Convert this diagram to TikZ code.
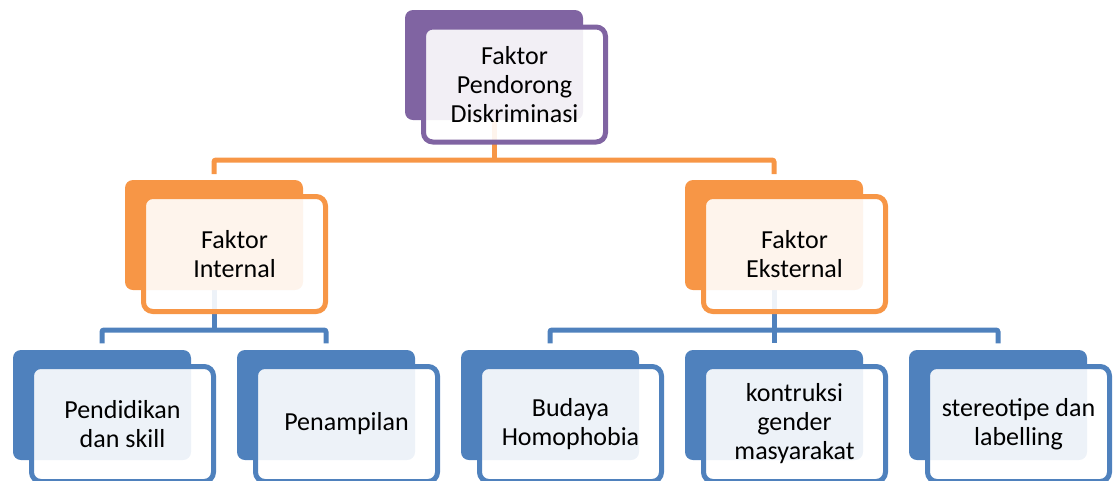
\documentclass[tikz,border=0pt]{standalone}
\usepackage{fontspec}
\setmainfont{Carlito}
\usetikzlibrary{calc}
\pgfdeclarelayer{background}
\pgfsetlayers{background,main}
\definecolor{cpurple}{HTML}{8064A2}
\definecolor{corange}{HTML}{F79646}
\definecolor{cblue}{HTML}{4F81BD}
\begin{document}
\begin{tikzpicture}[x=0.75pt,y=-0.75pt,
  backbox/.style={rectangle, rounded corners=6pt, fill=#1, draw=none,
    minimum width=133.5pt, minimum height=82.5pt, inner sep=0pt, outer sep=0pt},
  frontbox/.style={rectangle, rounded corners=7pt, draw=#1, line width=3.75pt,
    fill=white, fill opacity=0.9, text opacity=1, text=black,
    minimum width=136.5pt, minimum height=86.25pt, inner sep=0pt, outer sep=0pt,
    align=center, font=\fontsize{19.5pt}{21.75pt}\selectfont},
  conn/.style={line width=3.75pt, draw=#1, rounded corners=1.5pt},
]
\useasboundingbox (0,0) rectangle (1113,480);

% level 0
\node[backbox=cpurple] (topb) at (494,65) {};
\node[frontbox=cpurple] (top) at (514.5,84.5) {Faktor\\Pendorong\\Diskriminasi};

% level 1
\node[backbox=corange] (intb) at (214,235) {};
\node[frontbox=corange] (int) at (234.5,254) {Faktor\\Internal};
\node[backbox=corange] (extb) at (774,235) {};
\node[frontbox=corange] (ext) at (794.5,254) {Faktor\\Eksternal};

% level 2
\node[backbox=cblue] (b1b) at (102,405) {};
\node[frontbox=cblue] (b1) at (122.5,424) {Pendidikan\\dan skill};
\node[backbox=cblue] (b2b) at (326,405) {};
\node[frontbox=cblue] (b2) at (346.5,424) {Penampilan};
\node[backbox=cblue] (b3b) at (550,405) {};
\node[frontbox=cblue] (b3) at (570.5,424) {Budaya\\Homophobia};
\node[backbox=cblue] (b4b) at (774,405) {};
\node[frontbox=cblue] (b4) at (794.5,424) {kontruksi\\gender\\masyarakat};
\node[backbox=cblue] (b5b) at (998,405) {};
\node[frontbox=cblue] (b5) at (1018.5,424) {stereotipe dan\\labelling};

\begin{pgfonlayer}{background}
  \draw[conn=corange] (topb.south) -- (topb.south |- 0,160) coordinate (h1);
  \draw[conn=corange] ([yshift=4.5pt]intb.north) |- (h1) -| ([yshift=4.5pt]extb.north);
  \draw[conn=cblue] (intb.south) -- (intb.south |- 0,330) coordinate (h2);
  \draw[conn=cblue] ([yshift=5pt]b1b.north) |- (h2) -| ([yshift=5pt]b2b.north);
  \draw[conn=cblue] (extb.south) -- (extb.south |- 0,330) coordinate (h3);
  \draw[conn=cblue] ([yshift=5pt]b3b.north) |- (h3) -| ([yshift=5pt]b5b.north);
  \draw[conn=cblue] (h3) -- ([yshift=5pt]b4b.north);
\end{pgfonlayer}
\end{tikzpicture}
\end{document}
